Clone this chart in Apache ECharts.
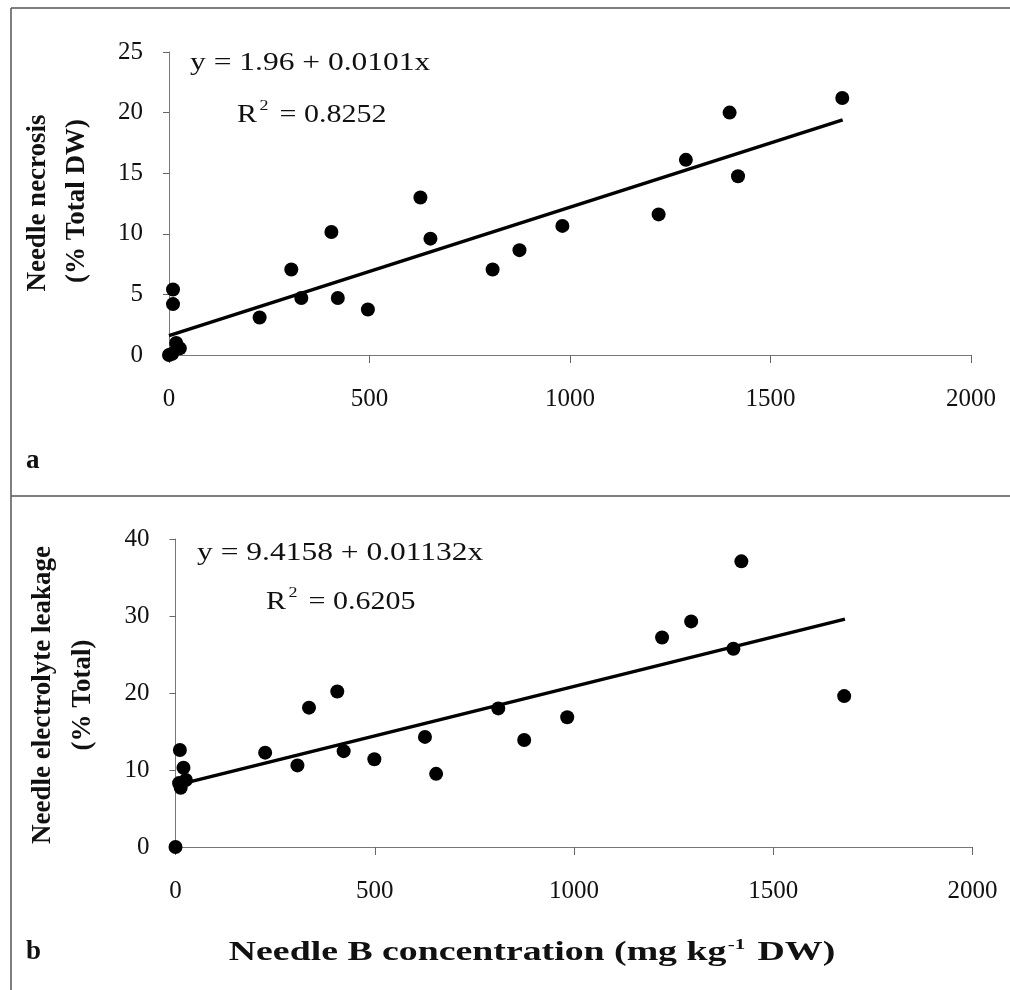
<!DOCTYPE html>
<html>
<head>
<meta charset="utf-8">
<script src="https://cdn.jsdelivr.net/npm/echarts@6/dist/echarts.min.js"></script>
<style>html,body{margin:0;padding:0;background:#fff}#c{width:1010px;height:990px}</style>
</head>
<body>
<div id="c"></div>
<script>
// ---- data ----
const necrosisX = [0, 10, 10, 8, 18, 27, 226, 305, 330, 405, 421, 496, 627, 652, 807, 874, 981, 1221, 1289, 1398, 1419, 1679];
const necrosisY = [0, 5.4, 4.2, 0.1, 1.0, 0.55, 3.1, 7.05, 4.7, 10.15, 4.7, 3.75, 13.0, 9.6, 7.05, 8.65, 10.65, 11.6, 16.1, 20.0, 14.75, 21.2];
const necrosisTrendX = [0, 1680];
const necrosisTrendY = [1.6, 19.4];

const leakageX = [0, 11, 20, 9, 13, 26, 225, 306, 335, 406, 422, 499, 626, 654, 810, 875, 983, 1221, 1294, 1400, 1420, 1678];
const leakageY = [0, 12.6, 10.3, 8.3, 7.7, 8.7, 12.25, 10.6, 18.1, 20.2, 12.45, 11.4, 14.3, 9.5, 18.0, 13.9, 16.85, 27.2, 29.3, 25.75, 37.1, 19.6];
const leakageTrendX = [0, 1680];
const leakageTrendY = [8.0, 29.6];

const xTicks = [0, 500, 1000, 1500, 2000];
const necrosisTicks = [0, 5, 10, 15, 20, 25];
const leakageTicks = [0, 10, 20, 30, 40];

const eqA = ['y = 1.96 + 0.0101x', '0.8252'];
const eqB = ['y = 9.4158 + 0.01132x', '0.6205'];
const yTitleA = ['Needle necrosis', '(% Total DW)'];
const yTitleB = ['Needle electrolyte leakage', '(% Total)'];
const xTitle = ['Needle B concentration (mg kg', '-1', ' DW)'];
const panelLabels = ['a', 'b'];

// ---- chart ----
const SERIF = '"Liberation Serif", "DejaVu Serif", serif';
const zip = (a, b) => a.map((v, i) => [v, b[i]]);
const chart = echarts.init(document.getElementById('c'), null, {renderer: 'canvas'});

function xAxisCfg(gi) {
  return {
    type: 'value', gridIndex: gi, min: xTicks[0], max: xTicks[xTicks.length - 1], interval: xTicks[1] - xTicks[0],
    axisLine: {show: true, lineStyle: {color: '#777', width: 1}},
    axisTick: {show: true, inside: false, length: 8, lineStyle: {color: '#666'}},
    axisLabel: {margin: 32, fontFamily: SERIF, fontSize: 25, color: '#111', formatter: v => String(v)},
    splitLine: {show: false}
  };
}
function yAxisCfg(gi, ticks) {
  return {
    type: 'value', gridIndex: gi, min: ticks[0], max: ticks[ticks.length - 1], interval: ticks[1] - ticks[0],
    axisLine: {show: true, lineStyle: {color: '#777', width: 1}},
    axisTick: {show: true, inside: false, length: 6, lineStyle: {color: '#666'}},
    axisLabel: {margin: 26, fontFamily: SERIF, fontSize: 25, color: '#111', formatter: v => String(v)},
    splitLine: {show: false}
  };
}

const dotStyle = {color: '#000', opacity: 1};
const supRich = (size) => ({
  r: {fontFamily: SERIF, fontSize: size, fill: '#111', verticalAlign: 'bottom'},
  s: {fontFamily: SERIF, fontSize: 15, fill: '#111', verticalAlign: 'top', padding: [0, 3, 14, 2]}
});
const option = {
  backgroundColor: '#fff',
  animation: false,
  grid: [
    {left: 169, top: 52, width: 802, height: 303, containLabel: false, outerBoundsMode: 'none'},
    {left: 175.5, top: 539, width: 797, height: 308, containLabel: false, outerBoundsMode: 'none'}
  ],
  xAxis: [xAxisCfg(0), xAxisCfg(1)],
  yAxis: [yAxisCfg(0, necrosisTicks), yAxisCfg(1, leakageTicks)],
  series: [
    {type: 'line', xAxisIndex: 0, yAxisIndex: 0, data: zip(necrosisTrendX, necrosisTrendY), symbol: 'none',
     lineStyle: {color: '#000', width: 3.5}, z: 2},
    {type: 'scatter', xAxisIndex: 0, yAxisIndex: 0, data: zip(necrosisX, necrosisY), symbol: 'circle', symbolSize: 14,
     itemStyle: dotStyle, z: 3},
    {type: 'line', xAxisIndex: 1, yAxisIndex: 1, data: zip(leakageTrendX, leakageTrendY), symbol: 'none',
     lineStyle: {color: '#000', width: 3.5}, z: 2},
    {type: 'scatter', xAxisIndex: 1, yAxisIndex: 1, data: zip(leakageX, leakageY), symbol: 'circle', symbolSize: 14,
     itemStyle: dotStyle, z: 3}
  ],
  graphic: [
    // frame lines of the scanned figure
    {type: 'line', shape: {x1: 11, y1: 8, x2: 1010, y2: 8}, style: {stroke: '#555', lineWidth: 1.5}},
    {type: 'line', shape: {x1: 11, y1: 8, x2: 11, y2: 990}, style: {stroke: '#555', lineWidth: 1.5}},
    {type: 'line', shape: {x1: 11, y1: 496, x2: 1010, y2: 496}, style: {stroke: '#555', lineWidth: 1.5}},
    // equations
    {type: 'text', x: 190, y: 63, scaleX: 1.26, style: {text: eqA[0], font: '25px ' + SERIF, fill: '#111', verticalAlign: 'middle'}},
    {type: 'text', x: 237, y: 113, scaleX: 1.2, style: {
      text: '{r|R}{s|2}{r| = ' + eqA[1] + '}', verticalAlign: 'middle', fill: '#111', rich: supRich(25)}},
    {type: 'text', x: 197, y: 553, scaleX: 1.26, style: {text: eqB[0], font: '25px ' + SERIF, fill: '#111', verticalAlign: 'middle'}},
    {type: 'text', x: 266, y: 600, scaleX: 1.2, style: {
      text: '{r|R}{s|2}{r| = ' + eqB[1] + '}', verticalAlign: 'middle', fill: '#111', rich: supRich(25)}},
    // y axis titles (rotated)
    {type: 'text', x: 38, y: 203, rotation: Math.PI / 2, style: {text: yTitleA[0], font: 'bold 27px ' + SERIF, fill: '#111', align: 'center', verticalAlign: 'middle'}},
    {type: 'text', x: 77, y: 201, rotation: Math.PI / 2, style: {text: yTitleA[1], font: 'bold 27px ' + SERIF, fill: '#111', align: 'center', verticalAlign: 'middle'}},
    {type: 'text', x: 43, y: 695, rotation: Math.PI / 2, style: {text: yTitleB[0], font: 'bold 27px ' + SERIF, fill: '#111', align: 'center', verticalAlign: 'middle'}},
    {type: 'text', x: 83, y: 695, rotation: Math.PI / 2, style: {text: yTitleB[1], font: 'bold 27px ' + SERIF, fill: '#111', align: 'center', verticalAlign: 'middle'}},
    // x axis title
    {type: 'text', x: 532, y: 952, scaleX: 1.4, style: {
      text: '{t|' + xTitle[0] + '}{s|' + xTitle[1] + '}{t|' + xTitle[2] + '}', align: 'center', verticalAlign: 'middle',
      rich: {t: {fontFamily: SERIF, fontWeight: 'bold', fontSize: 27, fill: '#111', verticalAlign: 'bottom'},
             s: {fontFamily: SERIF, fontWeight: 'bold', fontSize: 15, fill: '#111', verticalAlign: 'top', padding: [0, 2, 14, 1]}}}},
    // panel labels
    {type: 'text', x: 26, y: 461, style: {text: panelLabels[0], font: 'bold 27px ' + SERIF, fill: '#111', verticalAlign: 'middle'}},
    {type: 'text', x: 26, y: 952, style: {text: panelLabels[1], font: 'bold 27px ' + SERIF, fill: '#111', verticalAlign: 'middle'}}
  ]
};
chart.setOption(option);
</script>
</body>
</html>
